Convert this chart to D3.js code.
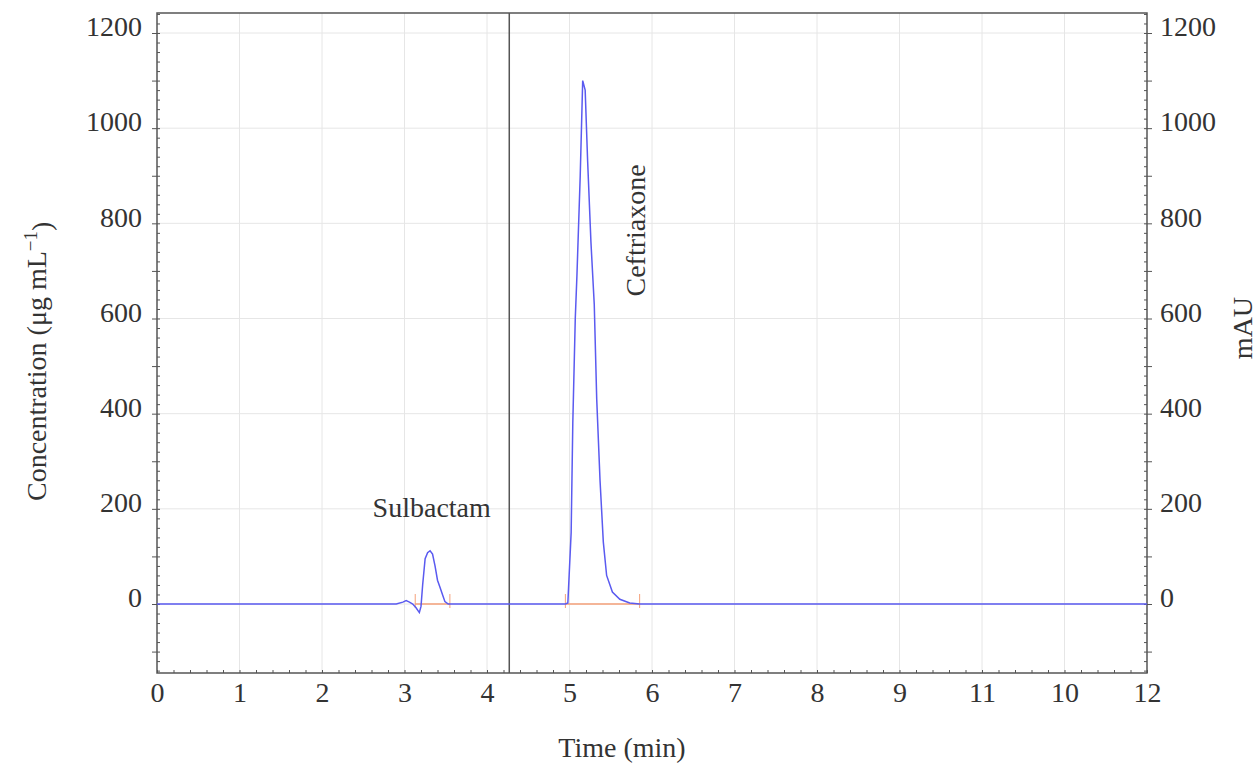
<!DOCTYPE html>
<html>
<head>
<meta charset="utf-8">
<script src="https://cdn.jsdelivr.net/npm/d3@7"></script>
<style>
  body { margin: 0; background: #fff; }
  text { font-family: "Liberation Serif", "DejaVu Serif", serif; fill: #333; }
</style>
</head>
<body>
<div class="chart"></div>
<script>
var width = 1259,
    height = 771;

// chromatogram (time in min, signal)
var times  = [0, 2.9, 2.98, 3.02, 3.06, 3.10, 3.14, 3.18, 3.20, 3.22, 3.25, 3.28, 3.31, 3.34, 3.37, 3.40, 3.43, 3.46, 3.49, 3.53,
              4.95, 4.98, 5.02, 5.04, 5.07, 5.09, 5.13, 5.16, 5.19, 5.22, 5.26, 5.30, 5.33, 5.37, 5.41, 5.45, 5.52, 5.61, 5.73, 5.85, 12];
var signal = [0, 0, 4, 7, 4, 0, -8, -18, -5, 40, 95, 108, 112, 105, 80, 50, 35, 20, 5, 0,
              0, 2, 150, 380, 600, 690, 900, 1100, 1080, 930, 760, 630, 430, 260, 130, 60, 25, 10, 2, 0, 0];

// integration baselines (orange)
var baseStart = [3.13, 4.95];
var baseEnd   = [3.55, 5.85];

var markerTime = 4.27;

var xTicks = [0, 1, 2, 3, 4, 5, 6, 7, 8, 9, 10, 11, 12];
var xTickLabels = ["0", "1", "2", "3", "4", "5", "6", "7", "8", "9", "11", "10", "12"];
var yTicks = [0, 200, 400, 600, 800, 1000, 1200];

var peakNames = ["Sulbactam", "Ceftriaxone"];

var x = d3.scaleLinear().domain([0, 12]).range([157, 1147]);
var y = d3.scaleLinear().domain([0, 1200]).range([604, 33]);
var yTop = 13, yBot = 673;

var svg = d3.select(".chart").append("svg")
    .attr("width", width)
    .attr("height", height);

// grid
svg.append("g").selectAll("line")
  .data(xTicks.slice(1, -1))
  .enter().append("line")
    .attr("x1", function(d) { return x(d); })
    .attr("x2", function(d) { return x(d); })
    .attr("y1", yTop).attr("y2", yBot)
    .style("stroke", "#e6e6e6");

svg.append("g").selectAll("line")
  .data(yTicks)
  .enter().append("line")
    .attr("x1", x(0)).attr("x2", x(12))
    .attr("y1", function(d) { return y(d); })
    .attr("y2", function(d) { return y(d); })
    .style("stroke", "#e6e6e6");

// minor ticks
var minorY = d3.range(-140, 1241, 20);
var minorX = d3.range(0, 12.01, 0.2);

svg.append("g")
  .attr("transform", "translate(" + x(0) + ",0)")
  .call(d3.axisRight(y).tickValues(minorY).tickSize(3).tickFormat(""))
  .call(function(g) { g.select(".domain").remove(); g.selectAll("line").style("stroke", "#555"); });

svg.append("g")
  .attr("transform", "translate(" + x(12) + ",0)")
  .call(d3.axisLeft(y).tickValues(minorY).tickSize(3).tickFormat(""))
  .call(function(g) { g.select(".domain").remove(); g.selectAll("line").style("stroke", "#555"); });

svg.append("g")
  .attr("transform", "translate(0," + yBot + ")")
  .call(d3.axisTop(x).tickValues(minorX).tickSize(3).tickFormat(""))
  .call(function(g) { g.select(".domain").remove(); g.selectAll("line").style("stroke", "#555"); });

// major axes
var leftAxis = svg.append("g")
  .attr("transform", "translate(" + x(0) + ",0)")
  .call(d3.axisLeft(y).tickValues(d3.range(-100, 1201, 100)).tickSize(5).tickPadding(10)
    .tickFormat(function(d) { return yTicks.indexOf(d) >= 0 ? d : ""; }));

var rightAxis = svg.append("g")
  .attr("transform", "translate(" + x(12) + ",0)")
  .call(d3.axisRight(y).tickValues(d3.range(-100, 1201, 100)).tickSize(5).tickPadding(8)
    .tickFormat(function(d) { return yTicks.indexOf(d) >= 0 ? d : ""; }));

var bottomAxis = svg.append("g")
  .attr("transform", "translate(0," + yBot + ")")
  .call(d3.axisBottom(x).tickValues(xTicks).tickSize(0).tickPadding(8)
    .tickFormat(function(d, i) { return xTickLabels[i]; }));

[leftAxis, rightAxis, bottomAxis].forEach(function(a) {
  a.select(".domain").remove();
  a.selectAll("line").style("stroke", "#555");
  a.selectAll("text")
    .style("font-family", "'Liberation Serif', serif")
    .style("font-size", "28px")
    .style("fill", "#333");
});
leftAxis.selectAll("text").attr("dy", "0.1em");
rightAxis.selectAll("text").attr("dy", "0.1em");
bottomAxis.selectAll("text").attr("dy", "0.75em");

// frame
svg.append("rect")
  .attr("x", x(0)).attr("y", yTop)
  .attr("width", x(12) - x(0)).attr("height", yBot - yTop)
  .style("fill", "none")
  .style("stroke", "#555")
  .style("stroke-width", 1.5);

// marker line
svg.append("line")
  .attr("x1", x(markerTime)).attr("x2", x(markerTime))
  .attr("y1", yTop).attr("y2", yBot)
  .style("stroke", "#555")
  .style("stroke-width", 1.5);

// integration baselines
var orange = "#f5a07a";
for (var i = 0; i < baseStart.length; i++) {
  svg.append("line")
    .attr("x1", x(baseStart[i])).attr("x2", x(baseEnd[i]))
    .attr("y1", y(0)).attr("y2", y(0))
    .style("stroke", orange).style("stroke-width", 1.5);
  [baseStart[i], baseEnd[i]].forEach(function(t) {
    svg.append("line")
      .attr("x1", x(t)).attr("x2", x(t))
      .attr("y1", y(0) + 4).attr("y2", y(0) - 10)
      .style("stroke", orange).style("stroke-width", 1);
  });
}

// chromatogram
var line = d3.line()
  .x(function(d) { return x(d[0]); })
  .y(function(d) { return y(d[1]); });

svg.append("path")
  .attr("d", line(d3.zip(times, signal)))
  .style("fill", "none")
  .style("stroke", "#5a5af0")
  .style("stroke-width", 1.5);

// peak labels
svg.append("text")
  .attr("x", x(3.33)).attr("y", y(200) + 8)
  .style("text-anchor", "middle")
  .style("font-size", "28px")
  .text(peakNames[0]);

svg.append("text")
  .attr("transform", "translate(" + (x(5.62) + 24) + "," + y(785) + ") rotate(-90)")
  .style("text-anchor", "middle")
  .style("font-size", "28px")
  .text(peakNames[1]);

// axis titles
svg.append("text")
  .attr("x", (x(0) + x(12)) / 2 - 30).attr("y", 757)
  .style("text-anchor", "middle")
  .style("font-size", "28px")
  .text("Time (min)");

var yl = svg.append("text")
  .attr("transform", "translate(46," + y(510) + ") rotate(-90)")
  .style("text-anchor", "middle")
  .style("font-size", "28px");
yl.append("tspan").text("Concentration (μg mL");
yl.append("tspan").attr("dy", "-0.5em").style("font-size", "19px").text("−1");
yl.append("tspan").attr("dy", "0.5em").text(")");

svg.append("text")
  .attr("transform", "translate(1252," + y(580) + ") rotate(-90)")
  .style("text-anchor", "middle")
  .style("font-size", "28px")
  .text("mAU");
</script>
</body>
</html>
